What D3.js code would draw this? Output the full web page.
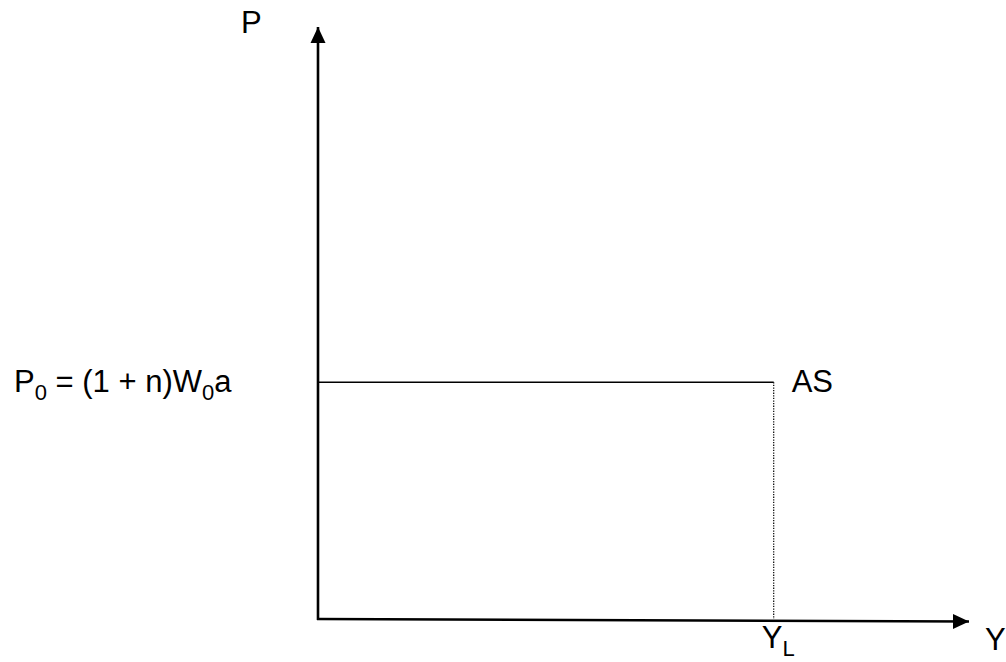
<!DOCTYPE html>
<html>
<head>
<meta charset="utf-8">
<script src="https://cdn.jsdelivr.net/npm/d3@7"></script>
<style>
  html, body { margin: 0; padding: 0; background: #fff; }
  svg { display: block; }
  text { font-family: "Liberation Sans", Arial, sans-serif; fill: #000; }
</style>
</head>
<body>
<svg id="chart" width="1006" height="662"></svg>
<script>
// ---- data ----
const xDomain = [0, 100];
const yDomain = [0, 100];
const supplyOutput = [70];          // Y_L position on the Y axis
const supplyPrice = [40];           // P0 level of the flat AS curve
const asSegment = [[0, 40], [70, 40]]; // horizontal AS curve
const axisLabels = ["P", "Y"];
const curveLabels = ["AS"];
const tickLabels = ["Y", "L"];      // Y_L
const priceLabel = ["P", "0", " = (1 + n)W", "0", "a"];

// ---- scales ----
const svg = d3.select("#chart");
const x = d3.scaleLinear().domain(xDomain).range([318, 969]);
const y = d3.scaleLinear().domain(yDomain).range([619, 27]);

// arrow markers
const defs = svg.append("defs");
defs.append("marker").attr("id", "arrow")
  .attr("viewBox", "0 0 16 16").attr("refX", 16).attr("refY", 8)
  .attr("markerWidth", 16).attr("markerHeight", 16)
  .attr("markerUnits", "userSpaceOnUse").attr("orient", "auto")
  .append("path").attr("d", "M0,0.5 L16,8 L0,15.5 Z").attr("fill", "#000");

// y axis
svg.append("line")
  .attr("x1", x(0)).attr("y1", y(0) + 1)
  .attr("x2", x(0)).attr("y2", y(100))
  .attr("stroke", "#000").attr("stroke-width", 2.6)
  .attr("marker-end", "url(#arrow)");
// x axis
svg.append("line")
  .attr("x1", x(0) - 1).attr("y1", y(0))
  .attr("x2", x(100)).attr("y2", y(0) + 2.5)
  .attr("stroke", "#000").attr("stroke-width", 2.4)
  .attr("marker-end", "url(#arrow)");

// AS curve
svg.append("path")
  .datum(asSegment)
  .attr("d", d3.line().x(d => x(d[0])).y(d => y(d[1])))
  .attr("fill", "none").attr("stroke", "#000").attr("stroke-width", 1.4);

// dotted drop line
svg.selectAll(".drop").data(supplyOutput).enter().append("line")
  .attr("x1", d => x(d)).attr("x2", d => x(d))
  .attr("y1", y(supplyPrice[0])).attr("y2", y(0))
  .attr("stroke", "#000").attr("stroke-width", 1.2)
  .attr("stroke-dasharray", "1.3,1.3");

const fs = 31, sub = 22;

// axis labels
svg.append("text").attr("x", 241).attr("y", 33).attr("font-size", fs).text(axisLabels[0]);
svg.append("text").attr("x", 985).attr("y", 650).attr("font-size", fs).text(axisLabels[1]);

// AS label
svg.append("text").attr("x", x(supplyOutput[0]) + 18).attr("y", 392)
  .attr("font-size", fs).text(curveLabels[0]);

// Y_L label
const yl = svg.append("text").attr("x", x(supplyOutput[0]) - 12).attr("y", 648).attr("font-size", fs);
yl.append("tspan").text(tickLabels[0]);
yl.append("tspan").attr("font-size", sub).attr("dy", 8).text(tickLabels[1]);

// P0 label
const pl = svg.append("text").attr("x", 14).attr("y", 392).attr("font-size", fs);
pl.append("tspan").text(priceLabel[0]);
pl.append("tspan").attr("font-size", sub).attr("dy", 8).text(priceLabel[1]);
pl.append("tspan").attr("dy", -8).text(priceLabel[2]);
pl.append("tspan").attr("font-size", sub).attr("dy", 8).text(priceLabel[3]);
pl.append("tspan").attr("dy", -8).text(priceLabel[4]);
</script>
</body>
</html>
